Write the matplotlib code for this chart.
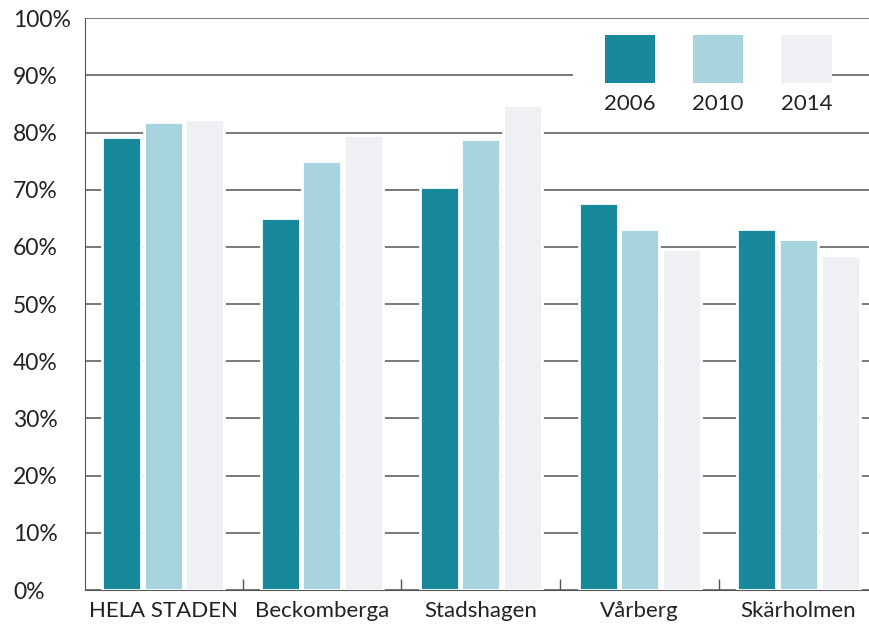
import numpy as np
import matplotlib
matplotlib.use("Agg")
import matplotlib.pyplot as plt
from matplotlib.patches import Rectangle

plt.rcParams['font.family'] = ['Lato', 'DejaVu Sans']

# data
categories = ['HELA STADEN', 'Beckomberga', 'Stadshagen', 'Vårberg', 'Skärholmen']
years = ['2006', '2010', '2014']
v2006 = [79.2, 65.1, 70.5, 67.6, 63.1]
v2010 = [81.8, 75.0, 78.9, 63.2, 61.4]
v2014 = [82.4, 79.6, 84.8, 59.7, 58.6]
yticks = [0, 10, 20, 30, 40, 50, 60, 70, 80, 90, 100]

colors = ['#18899a', '#a8d4df', '#eef0f3']
series = [v2006, v2010, v2014]

fig = plt.figure(figsize=(8.7, 6.26), dpi=100)
ax = fig.add_axes([0.098, 0.0575, 0.902, 0.9135])

x = np.arange(len(categories))
w = 0.245
off = 0.262
for i, vals in enumerate(series):
    ax.bar(x + (i - 1) * off, vals, width=w, color=colors[i],
           edgecolor='white', linewidth=2, zorder=3)

ax.set_ylim(0, 100)
ax.set_xlim(-0.49, len(categories) - 0.55)
ax.set_yticks(yticks)
ax.set_yticklabels([f'{t}%' for t in yticks], fontsize=16.5, color='#222222')
ax.tick_params(axis='y', length=0, pad=52)
for lab in ax.get_yticklabels():
    lab.set_horizontalalignment('left')
ax.yaxis.grid(True, color='#555555', linewidth=1.1, zorder=0)
ax.set_axisbelow(True)

ax.set_xticks(x)
ax.set_xticklabels(categories, fontsize=16, color='#222222')
ax.set_xticks(x[:-1] + 0.5, minor=True)
ax.tick_params(axis='x', which='major', length=0, pad=8)
ax.tick_params(axis='x', which='minor', direction='in', length=8, color='#555555', width=1)

for s in ['top', 'right']:
    ax.spines[s].set_visible(False)
ax.spines['left'].set_color('#555555')
ax.spines['bottom'].set_color('#555555')
ax.spines['bottom'].set_zorder(1)

# legend drawn by hand: squares with years below
ax.add_patch(Rectangle((0.622, 0.826), 0.31, 0.155, transform=ax.transAxes,
                       facecolor='white', edgecolor='none', zorder=2))
for i, yr in enumerate(years):
    x0 = 0.662 + i * 0.1125
    ax.add_patch(Rectangle((x0, 0.887), 0.064, 0.084, transform=ax.transAxes,
                           facecolor=colors[i], edgecolor='none', zorder=4))
    ax.text(x0 + 0.032, 0.850, yr, transform=ax.transAxes, ha='center', va='center',
            fontsize=16, color='#222222', zorder=4)

fig.savefig('out.png', dpi=100)
